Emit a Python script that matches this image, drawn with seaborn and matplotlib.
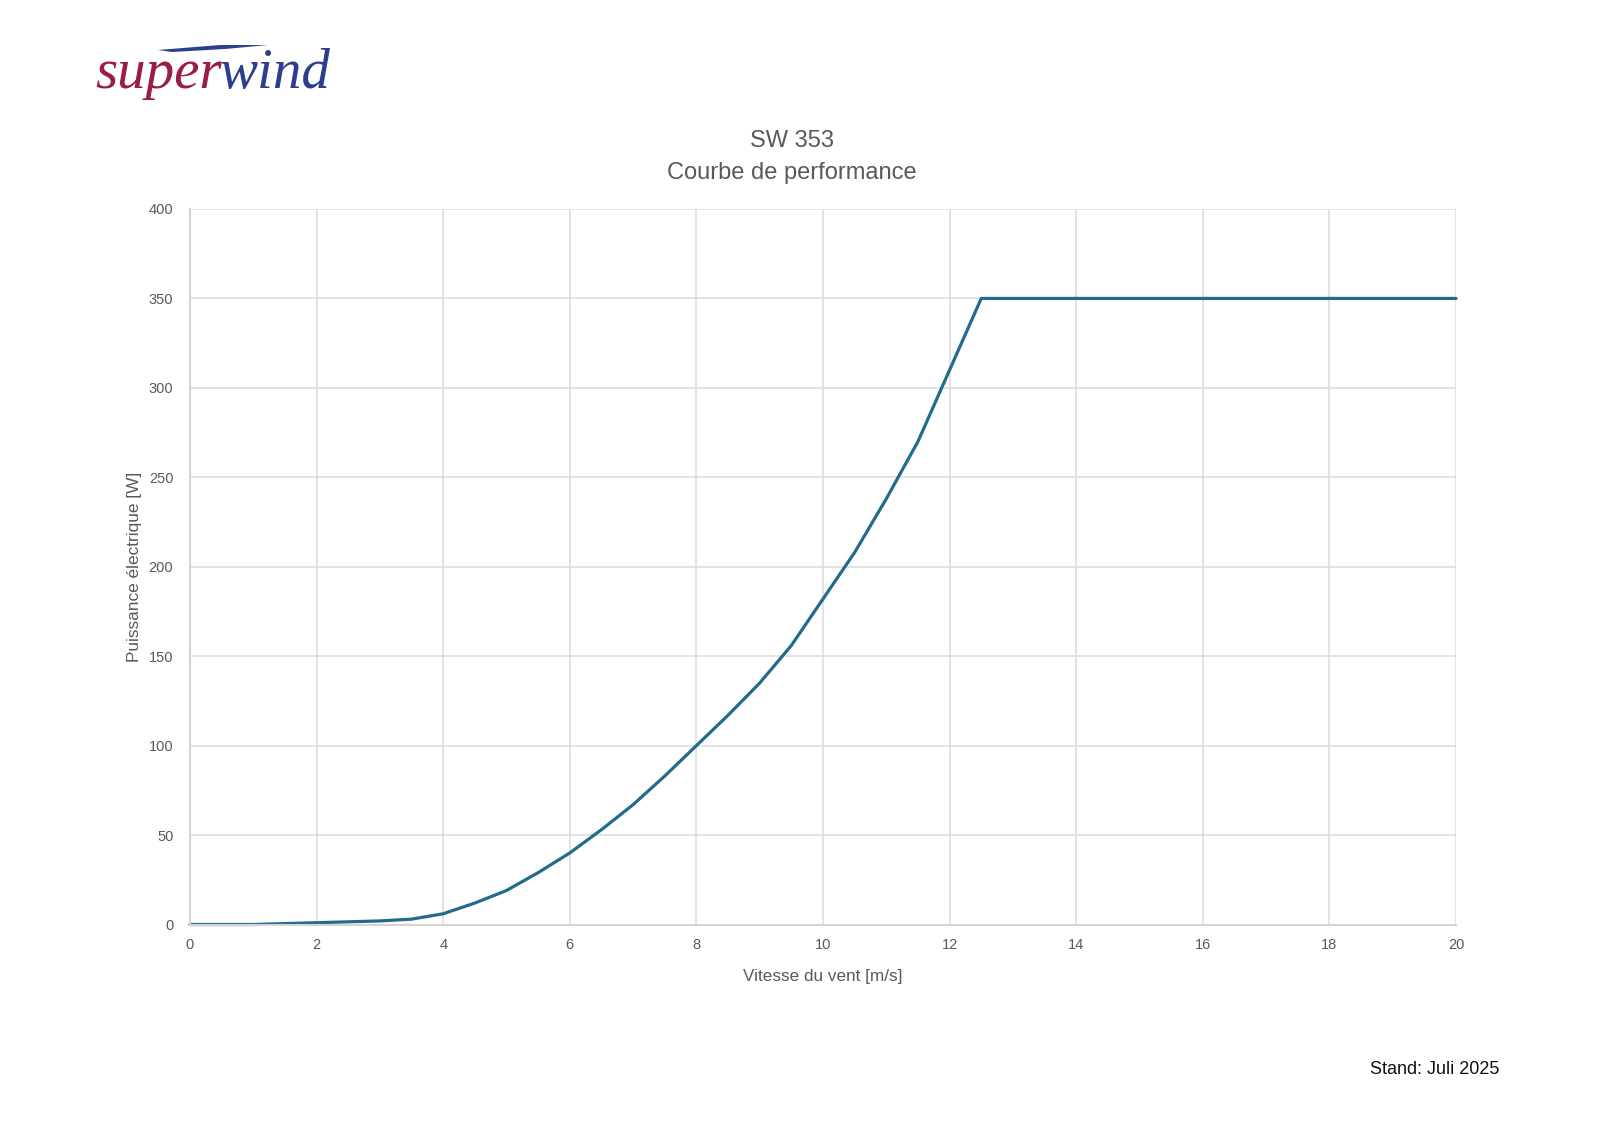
import numpy as np
import pandas as pd
import matplotlib
matplotlib.use("Agg")
import matplotlib.pyplot as plt
from matplotlib.patches import Polygon
import seaborn as sns

wind_speed = [0, 0.5, 1, 1.5, 2, 2.5, 3, 3.5, 4, 4.5, 5, 5.5, 6, 6.5, 7, 7.5, 8, 8.5,
              9, 9.5, 10, 10.5, 11, 11.5, 12, 12.5, 13, 14, 15, 16, 17, 18, 19, 20]
power = [0, 0, 0, 0.5, 1, 1.5, 2, 3, 6, 12, 19, 29, 40, 53, 67, 83, 100, 117,
         135, 156, 182, 208, 238, 270, 310, 350, 350, 350, 350, 350, 350, 350, 350, 350]
x_ticks = [0, 2, 4, 6, 8, 10, 12, 14, 16, 18, 20]
y_ticks = [0, 50, 100, 150, 200, 250, 300, 350, 400]

df = pd.DataFrame({"v": wind_speed, "p": power})

sns.set_style("white")
plt.rcParams["font.family"] = ["Liberation Sans", "DejaVu Sans"]

W, H = 1600, 1131
fig = plt.figure(figsize=(W / 100, H / 100), dpi=100)
ax = fig.add_axes([190 / W, 1 - 924.5 / H, (1456 - 190) / W, (924.5 - 209) / H])

sns.lineplot(data=df, x="v", y="p", ax=ax, color="#226b8c", linewidth=2.3, clip_on=False)

ax.set_xlim(0, 20)
ax.set_ylim(0, 400)
ax.set_xticks(x_ticks)
ax.set_yticks(y_ticks)
ax.grid(True, color="#dedede", linewidth=1.2)
for s in ["top", "right"]:
    ax.spines[s].set_visible(False)
for s in ["left", "bottom"]:
    ax.spines[s].set_color("#d4d4d4")
    ax.spines[s].set_linewidth(1.5)
ax.tick_params(axis="both", length=0, labelsize=10.5, labelcolor="#595959")
ax.tick_params(axis="x", pad=10)
ax.tick_params(axis="y", pad=12)
ax.set_axisbelow(True)

ax.set_xlabel("Vitesse du vent [m/s]", fontsize=12.3, color="#595959", labelpad=12)
ax.set_ylabel("Puissance électrique [W]", fontsize=12.4, color="#595959", labelpad=4.5)

fig.text(792 / W, 1 - 141 / H, "SW 353", ha="center", va="center", fontsize=17, color="#595959")
fig.text(792 / W, 1 - 173 / H, "Courbe de performance", ha="center", va="center", fontsize=17, color="#595959")

fig.text(1499 / W, 1 - 1070 / H, "Stand: Juli 2025", ha="right", va="center", fontsize=13, color="#111111")

# logo
logo_font = dict(family=["Liberation Serif", "DejaVu Serif"], style="italic", fontsize=41)
t1 = fig.text(95 / W, 1 - 88 / H, "super", ha="left", va="baseline", color="#9b1b4a", **logo_font)
fig.canvas.draw()
bb = t1.get_window_extent(renderer=fig.canvas.get_renderer())
fig.text(bb.x1 / W - 2 / W, 1 - 88 / H, "wind", ha="left", va="baseline", color="#2b3f8e", **logo_font)
sw = Polygon([[158 / W, 1 - 50 / H], [220 / W, 1 - 45 / H], [268 / W, 1 - 45 / H],
              [225 / W, 1 - 49 / H], [172 / W, 1 - 52 / H]],
             closed=True, transform=fig.transFigure, facecolor="#2b3f8e", edgecolor="none")
fig.patches.append(sw)

fig.savefig("out.png", dpi=100, facecolor="white")
